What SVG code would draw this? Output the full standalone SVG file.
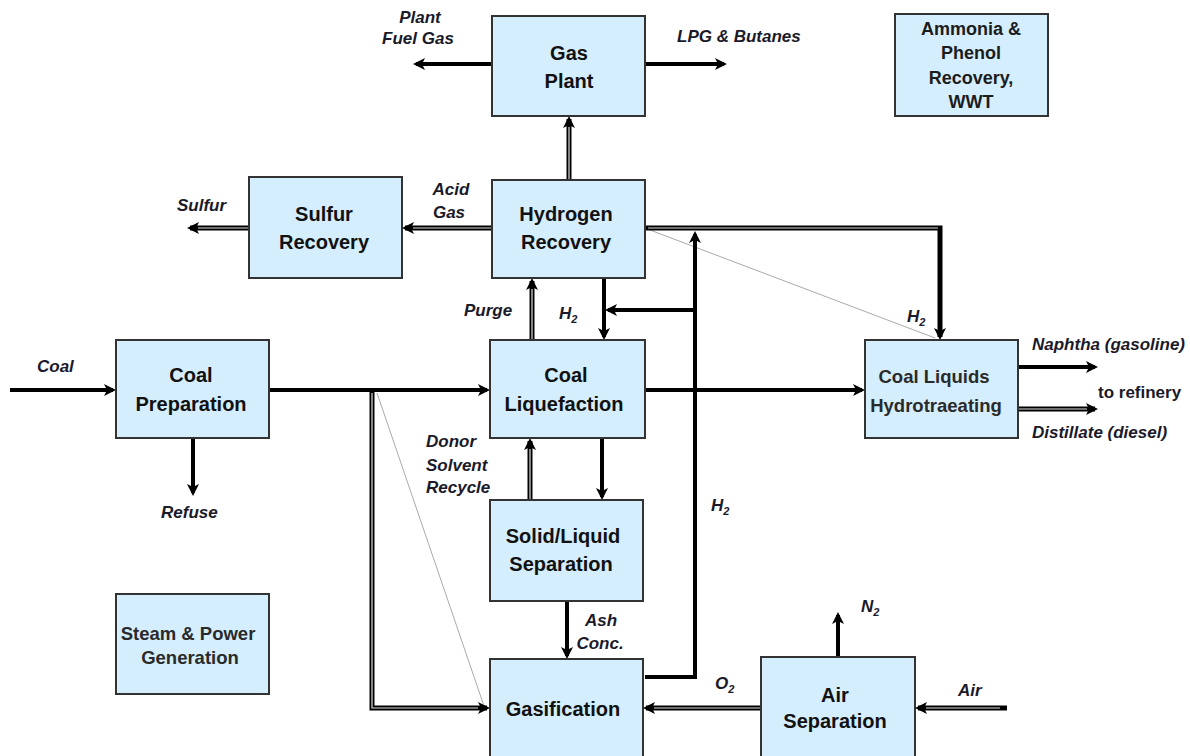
<svg xmlns="http://www.w3.org/2000/svg" width="1190" height="756" viewBox="0 0 1190 756">
<defs>
<style>
.box{fill:#d5eefd;stroke:#333;stroke-width:2}
.bl{font-family:"Liberation Sans",Arial,sans-serif;font-weight:bold;font-size:20px;fill:#111;text-anchor:middle}
.bs{font-family:"Liberation Sans",Arial,sans-serif;font-weight:bold;font-size:18px;fill:#1c1c1c;text-anchor:middle}
.bm{font-family:"Liberation Sans",Arial,sans-serif;font-weight:bold;font-size:18.5px;fill:#2a2a2a;text-anchor:middle}
.lb{font-family:"Liberation Sans",Arial,sans-serif;font-weight:bold;font-style:italic;font-size:17px;fill:#1a1a2a}
.lbn{font-family:"Liberation Sans",Arial,sans-serif;font-weight:bold;font-size:17px;fill:#1a1a2a}
.sub{font-size:11px}
.ln{fill:none;stroke:#000;stroke-width:4}
.dl{fill:none;stroke:#000;stroke-width:5}
.di{fill:none;stroke:#ddd;stroke-width:1.2}
.th{fill:none;stroke:#aaa;stroke-width:1}
</style>
<marker id="ah" markerUnits="userSpaceOnUse" markerWidth="14" markerHeight="12" refX="9" refY="6" orient="auto">
<path d="M0,0 L12,6 L0,12 L3,6 z" fill="#000"/>
</marker>
</defs>
<rect width="1190" height="756" fill="#fff"/>

<g id="connectors">
<path class="th" d="M377,393 L484,706"/>
<path class="th" d="M650,230 L935,338"/>
<path class="ln" d="M10,390 H113" marker-end="url(#ah)"/>
<path class="ln" d="M269,390 H487" marker-end="url(#ah)"/>
<path class="dl" d="M372,390 V708 H487" marker-end="url(#ah)"/>
<path class="di" d="M372,393 V708 H478"/>
<path class="ln" d="M193,438 V493" marker-end="url(#ah)"/>
<path class="ln" d="M492,64 H416" marker-end="url(#ah)"/>
<path class="ln" d="M645,64 H724" marker-end="url(#ah)"/>
<path class="dl" d="M569,180 V119" marker-end="url(#ah)"/>
<path class="di" d="M569,180 V127"/>
<path class="dl" d="M492,228 H405" marker-end="url(#ah)"/>
<path class="di" d="M492,228 H413"/>
<path class="dl" d="M249,228 H190" marker-end="url(#ah)"/>
<path class="di" d="M249,228 H198"/>
<path class="dl" d="M645,228 H940 V337" marker-end="url(#ah)"/>
<path class="di" d="M648,228 H938"/>
<path class="ln" d="M645,677 H695 V379"/>
<path class="ln" d="M695,407 V234" marker-end="url(#ah)"/>
<path class="ln" d="M695,310 H608" marker-end="url(#ah)"/>
<path class="ln" d="M604,278 V337" marker-end="url(#ah)"/>
<path class="dl" d="M532,340 V281" marker-end="url(#ah)"/>
<path class="di" d="M532,340 V289"/>
<path class="ln" d="M645,390 H862" marker-end="url(#ah)"/>
<path class="ln" d="M602,438 V497" marker-end="url(#ah)"/>
<path class="dl" d="M530,500 V441" marker-end="url(#ah)"/>
<path class="di" d="M530,500 V449"/>
<path class="ln" d="M567,601 V656" marker-end="url(#ah)"/>
<path class="dl" d="M761,708 H646" marker-end="url(#ah)"/>
<path class="di" d="M761,708 H654"/>
<path class="dl" d="M1007,708 H918" marker-end="url(#ah)"/>
<path class="di" d="M1000,708 H926"/>
<path class="ln" d="M838,657 V615" marker-end="url(#ah)"/>
<path class="ln" d="M1018,367 H1095" marker-end="url(#ah)"/>
<path class="dl" d="M1018,409 H1095" marker-end="url(#ah)"/>
<path class="di" d="M1018,409 H1087"/>
</g>

<g id="labels">
<text class="lb" x="420" y="23" text-anchor="middle">Plant</text>
<text class="lb" x="418" y="44" text-anchor="middle">Fuel Gas</text>
<text class="lb" x="677" y="42">LPG &amp; Butanes</text>
<text class="lb" x="451" y="195" text-anchor="middle">Acid</text>
<text class="lb" x="449" y="218" text-anchor="middle">Gas</text>
<text class="lb" x="177" y="211">Sulfur</text>
<text class="lb" x="464" y="316">Purge</text>
<text class="lb" x="559" y="319">H<tspan class="sub" dy="4">2</tspan></text>
<text class="lb" x="37" y="372">Coal</text>
<text class="lb" x="161" y="518">Refuse</text>
<text class="lb" x="426" y="447">Donor</text>
<text class="lb" x="426" y="471">Solvent</text>
<text class="lb" x="426" y="493">Recycle</text>
<text class="lb" x="711" y="511">H<tspan class="sub" dy="4">2</tspan></text>
<text class="lb" x="907" y="322">H<tspan class="sub" dy="4">2</tspan></text>
<text class="lb" x="1032" y="350">Naphtha (gasoline)</text>
<text class="lbn" x="1098" y="398">to refinery</text>
<text class="lb" x="1032" y="438">Distillate (diesel)</text>
<text class="lb" x="601" y="626" text-anchor="middle">Ash</text>
<text class="lb" x="600" y="649" text-anchor="middle">Conc.</text>
<text class="lb" x="715" y="689">O<tspan class="sub" dy="4">2</tspan></text>
<text class="lb" x="861" y="612">N<tspan class="sub" dy="4">2</tspan></text>
<text class="lb" x="958" y="696">Air</text>
</g>

<g id="gas-plant">
<rect class="box" x="492" y="16" width="153" height="100"/>
<text class="bl" x="569" y="60">Gas</text>
<text class="bl" x="569" y="88">Plant</text>
</g>
<g id="ammonia-phenol">
<rect class="box" x="895" y="14" width="153" height="102"/>
<text class="bs" x="971" y="35">Ammonia &amp;</text>
<text class="bs" x="971" y="59">Phenol</text>
<text class="bs" x="971" y="84">Recovery,</text>
<text class="bs" x="971" y="108">WWT</text>
</g>
<g id="sulfur-recovery">
<rect class="box" x="249" y="177" width="153" height="101"/>
<text class="bl" x="324" y="221">Sulfur</text>
<text class="bl" x="324" y="249">Recovery</text>
</g>
<g id="hydrogen-recovery">
<rect class="box" x="492" y="180" width="153" height="98"/>
<text class="bl" x="566" y="221">Hydrogen</text>
<text class="bl" x="566" y="249">Recovery</text>
</g>
<g id="coal-preparation">
<rect class="box" x="116" y="340" width="153" height="98"/>
<text class="bl" x="191" y="382">Coal</text>
<text class="bl" x="191" y="411">Preparation</text>
</g>
<g id="coal-liquefaction">
<rect class="box" x="490" y="340" width="155" height="98"/>
<text class="bl" x="566" y="382">Coal</text>
<text class="bl" x="564" y="411">Liquefaction</text>
</g>
<g id="hydrotreating">
<rect class="box" x="865" y="340" width="153" height="98"/>
<text class="bm" x="934" y="383">Coal Liquids</text>
<text class="bm" x="936" y="412">Hydrotraeating</text>
</g>
<g id="solid-liquid">
<rect class="box" x="490" y="500" width="153" height="101"/>
<text class="bl" x="563" y="543">Solid/Liquid</text>
<text class="bl" x="561" y="571">Separation</text>
</g>
<g id="steam-power">
<rect class="box" x="116" y="594" width="153" height="100"/>
<text class="bm" x="188" y="640">Steam &amp; Power</text>
<text class="bm" x="190" y="664">Generation</text>
</g>
<g id="gasification">
<rect class="box" x="490" y="659" width="153" height="100"/>
<text class="bl" x="563" y="716">Gasification</text>
</g>
<g id="air-separation">
<rect class="box" x="761" y="657" width="154" height="102"/>
<text class="bl" x="835" y="702">Air</text>
<text class="bl" x="835" y="728">Separation</text>
</g>
</svg>
